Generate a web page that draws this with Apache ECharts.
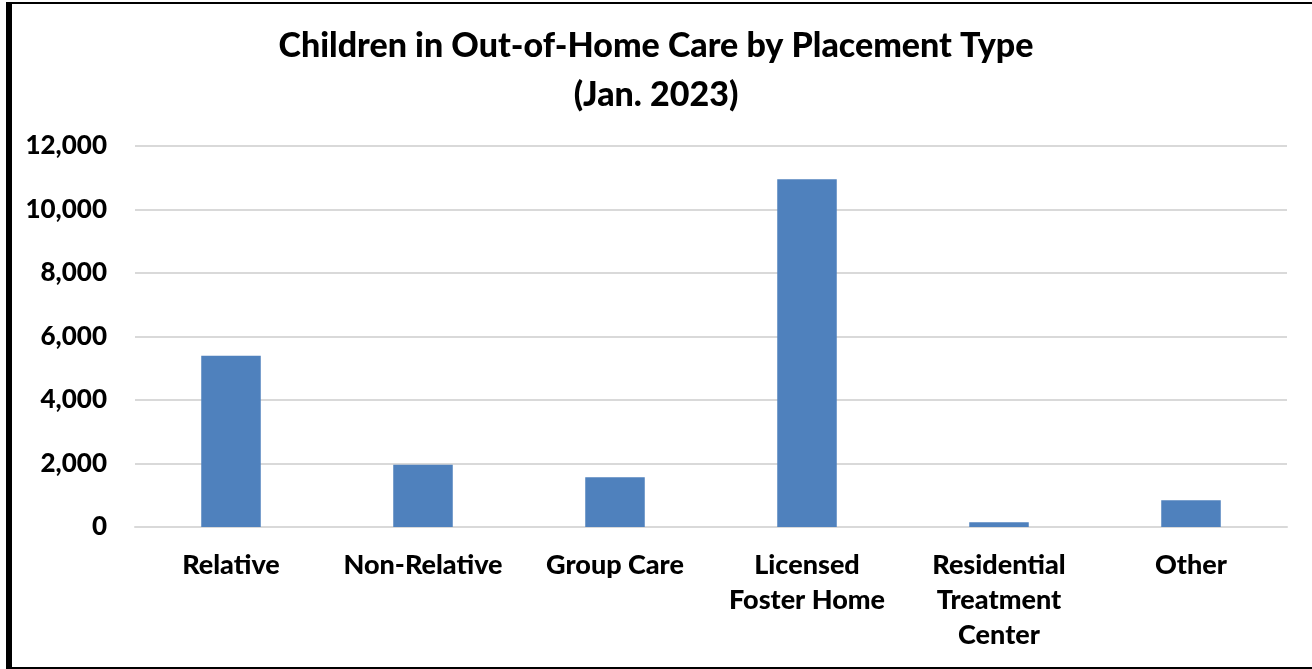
<!DOCTYPE html>
<html>
<head>
<meta charset="utf-8">
<script src="https://cdn.jsdelivr.net/npm/echarts@6/dist/echarts.min.js"></script>
<style>
  html, body { margin: 0; padding: 0; background: #fff; }
  #chart { position: absolute; left: 0; top: 0; width: 1312px; height: 669px; }
  #frame { position: absolute; left: 6px; top: 2px; width: 1320px; height: 663px;
           border-left: 6px solid #000; border-top: 2px solid #000; border-bottom: 2px solid #000;
           pointer-events: none; }
</style>
</head>
<body>
<div id="chart"></div>
<div id="frame"></div>
<script>
const titleLines = ['Children in Out-of-Home Care by Placement Type', '(Jan. 2023)'];
const categories = ['Relative', 'Non-Relative', 'Group Care', 'Licensed\nFoster Home', 'Residential\nTreatment\nCenter', 'Other'];
const children = [5390, 1960, 1570, 10950, 150, 840];
const yTicks = { min: 0, max: 12000, interval: 2000 };

const FONT = 'Lato';
const chart = echarts.init(document.getElementById('chart'), null, { renderer: 'canvas' });
chart.setOption({
  animation: false,
  backgroundColor: '#ffffff',
  title: {
    text: titleLines.join('\n'),
    left: 'center',
    top: 17,
    textStyle: { fontFamily: FONT, fontWeight: 900, fontSize: 34, color: '#000', lineHeight: 49 }
  },
  grid: { left: 135, right: 25, top: 146, bottom: 142, containLabel: false },
  xAxis: {
    type: 'category',
    data: categories,
    axisLine: { show: true, lineStyle: { color: '#d9d9d9', width: 2 } },
    axisTick: { show: false },
    axisLabel: { fontFamily: FONT, fontWeight: 900, fontSize: 27, color: '#000', lineHeight: 35, margin: 21, interval: 0 }
  },
  yAxis: {
    type: 'value',
    min: yTicks.min, max: yTicks.max, interval: yTicks.interval,
    axisLine: { show: false },
    axisTick: { show: false },
    splitLine: { lineStyle: { color: '#d9d9d9', width: 2 } },
    axisLabel: {
      fontFamily: FONT, fontWeight: 900, fontSize: 26, color: '#000', margin: 28,
      formatter: v => v.toLocaleString('en-US')
    }
  },
  series: [{
    type: 'bar',
    data: children,
    barWidth: '31%',
    itemStyle: { color: '#4F81BD' }
  }]
});
</script>
</body>
</html>
